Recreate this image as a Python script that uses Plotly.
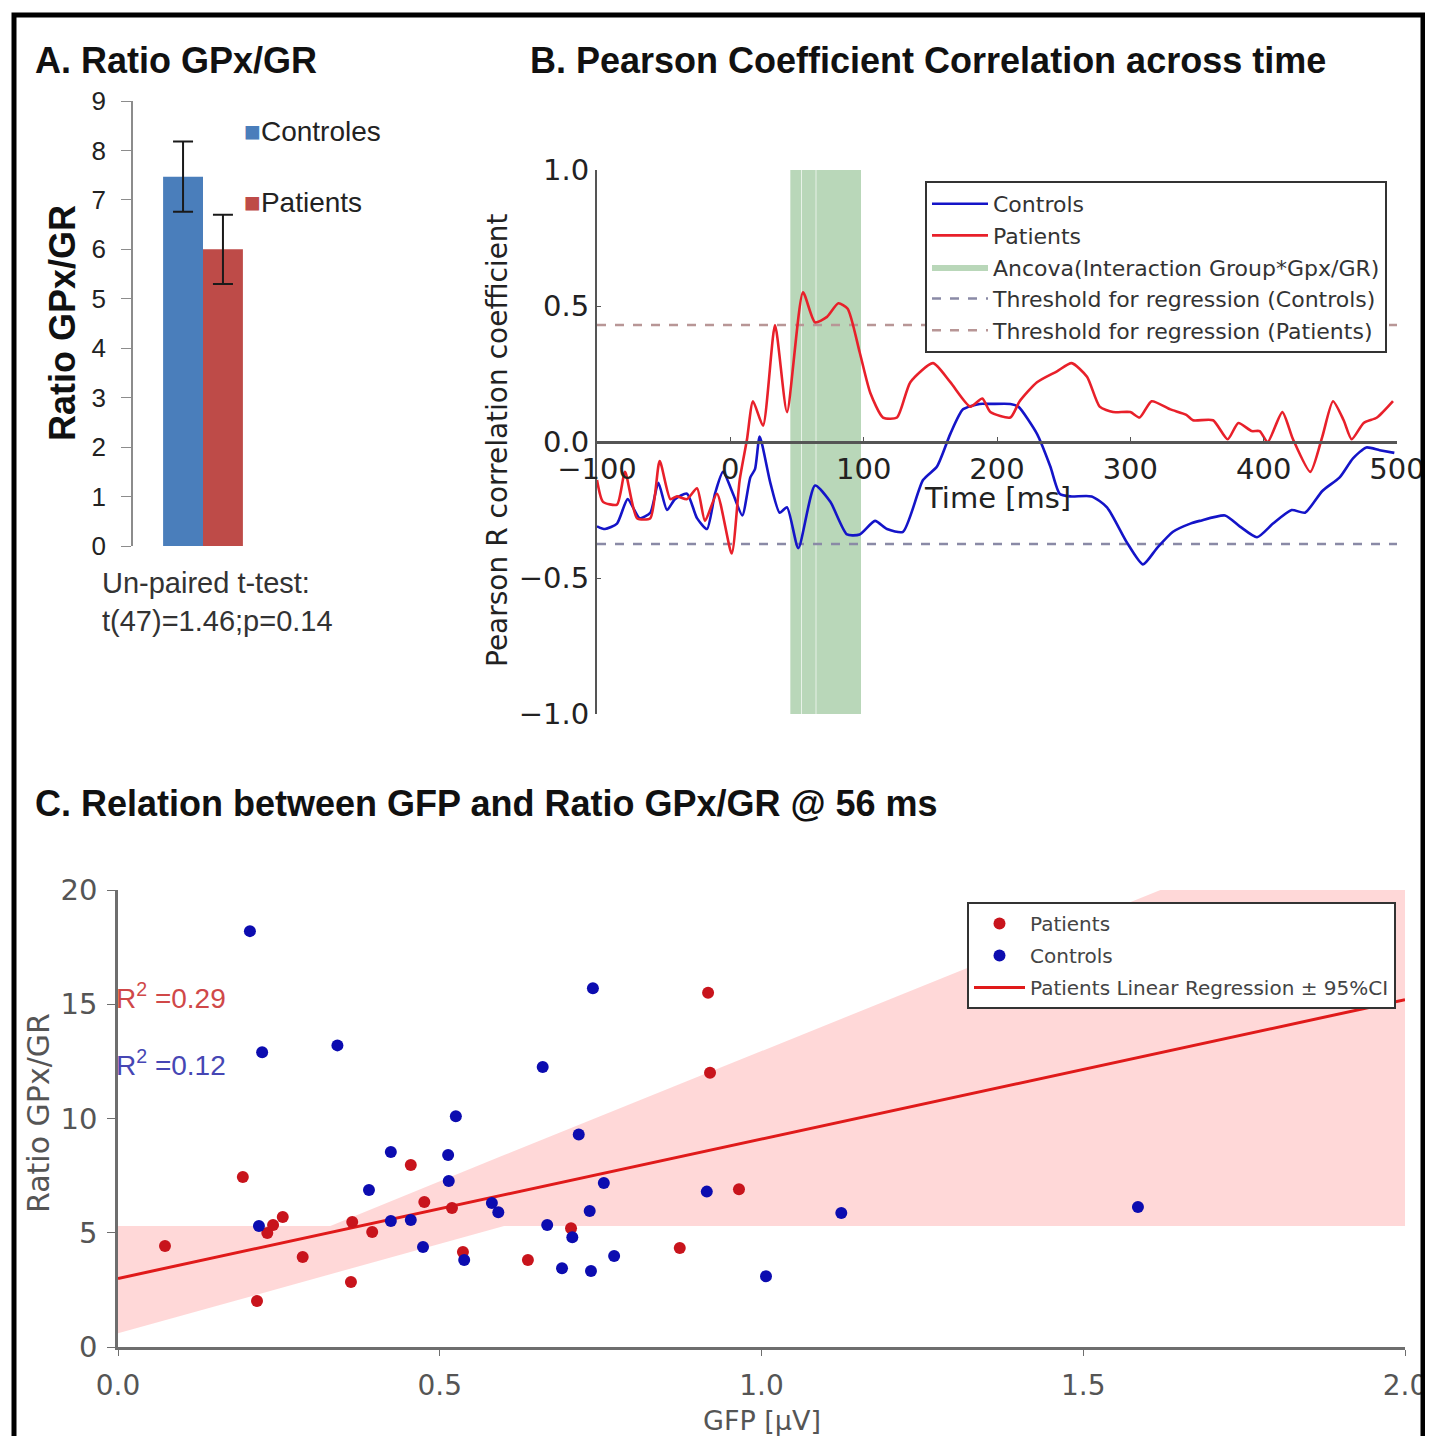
import plotly.graph_objects as go

W, H = 1433, 1436
OFF = 8  # page offset of the figure inside the browser window

# ---------------- Panel A data ----------------
groups_a = ["Controles", "Patients"]
means_a = [7.47, 6.0]
errs_a = [0.71, 0.70]
colors_a = ["#4a7ebb", "#be4b48"]
a_ticks = [0, 1, 2, 3, 4, 5, 6, 7, 8, 9]

# ---------------- Panel B data ----------------
t_controls = [-100, -94, -85, -77, -68, -60, -54, -47.5, -41.5, -32.5,
              -25, -17.5, -11.5, -5.5, 2, 9, 15, 18.5, 22, 30,
              37, 42.5, 51, 63.5, 75, 87.5, 97, 108.5, 117.5, 129.5,
              144.5, 155, 165, 174.5, 187, 195, 210, 216, 230, 240,
              247, 255, 271, 282.5, 297.5, 309.5, 320, 332, 345, 352,
              371, 382, 395, 407, 421, 431, 444, 457, 467, 477,
              487, 498]
r_controls = [-0.31, -0.32, -0.30, -0.21, -0.28, -0.26, -0.15, -0.25, -0.21, -0.19,
              -0.28, -0.32, -0.19, -0.11, -0.19, -0.27, -0.13, -0.10, 0.02, -0.15,
              -0.26, -0.24, -0.39, -0.16, -0.22, -0.34, -0.34, -0.29, -0.32, -0.33,
              -0.14, -0.09, 0.03, 0.12, 0.14, 0.14, 0.14, 0.13, 0.03, -0.09,
              -0.19, -0.20, -0.20, -0.24, -0.37, -0.45, -0.39, -0.33, -0.30, -0.29,
              -0.27, -0.31, -0.35, -0.30, -0.25, -0.26, -0.18, -0.13, -0.06, -0.02,
              -0.03, -0.04]
t_patients = [-100, -95.5, -85, -79, -70, -60, -53, -45, -40, -32.5,
              -25, -19, -10, 1, 7, 12.5, 17, 24.5, 33.5, 42.5,
              54.5, 63.5, 72.5, 81, 88, 97, 105, 114.5, 125, 135,
              152, 165, 180, 189, 195, 210, 217, 230, 245, 256,
              267.5, 277, 287, 300, 307, 316, 330, 342, 347, 362,
              373, 381, 391, 397, 403, 414, 422, 435, 444, 452,
              460, 466, 475, 485, 497]
r_patients = [-0.14, -0.22, -0.23, -0.11, -0.28, -0.28, -0.07, -0.21, -0.20, -0.21,
              -0.17, -0.29, -0.19, -0.41, -0.14, 0.01, 0.15, 0.06, 0.43, 0.11,
              0.55, 0.44, 0.46, 0.51, 0.49, 0.33, 0.18, 0.09, 0.09, 0.22,
              0.29, 0.22, 0.13, 0.16, 0.11, 0.09, 0.15, 0.22, 0.26, 0.29,
              0.24, 0.13, 0.11, 0.11, 0.09, 0.15, 0.12, 0.10, 0.08, 0.08,
              0.01, 0.07, 0.04, 0.04, 0.00, 0.11, 0.01, -0.11, 0.02, 0.15,
              0.08, 0.01, 0.07, 0.09, 0.15]
ancova_start = [45, 53.5, 64.5]
ancova_end = [53, 64, 98]
thr_controls = -0.375
thr_patients = 0.43
b_time_range = [-100, 500]
b_xticks = [-100, 0, 100, 200, 300, 400, 500]
b_yticks = [-1.0, -0.5, 0.0, 0.5, 1.0]
b_yticklabels = ["\u22121.0", "\u22120.5", "0.0", "0.5", "1.0"]
b_xticklabels = ["\u2212100", "0", "100", "200", "300", "400", "500"]

# ---------------- Panel C data ----------------
gfp_patients = [0.073, 0.194, 0.216, 0.232, 0.241, 0.256, 0.287, 0.362, 0.364, 0.395,
                0.455, 0.476, 0.519, 0.536, 0.637, 0.704, 0.873, 0.917, 0.920, 0.965]
ratio_patients = [4.42, 7.44, 2.01, 4.99, 5.34, 5.69, 3.94, 2.84, 5.47, 5.03,
                  7.97, 6.35, 6.08, 4.16, 3.81, 5.20, 4.33, 15.5, 12.0, 6.90]
gfp_controls = [0.205, 0.224, 0.341, 0.660, 0.525, 0.424, 0.513, 0.514, 0.390, 0.219,
                0.424, 0.455, 0.581, 0.591, 0.474, 0.538, 0.667, 0.738, 0.716, 0.755,
                0.915, 0.733, 0.706, 0.771, 0.690, 0.735, 1.007, 1.124, 1.585]
ratio_controls = [18.2, 12.9, 13.2, 12.25, 10.1, 8.53, 8.4, 7.26, 6.87, 5.30,
                  5.51, 5.56, 6.30, 5.90, 4.38, 3.81, 5.34, 15.7, 9.30, 7.18,
                  6.80, 5.95, 4.80, 3.98, 3.45, 3.33, 3.10, 5.86, 6.13]
reg_x = [0.0, 2.0]
reg_y = [3.0, 15.2]
band_x = [0.0, 0.33, 0.60, 1.62, 2.0]
band_lower = [0.6, 3.2, 5.3, 5.3, 5.3]
band_upper = [5.3, 5.3, 8.4, 20.0, 20.0]
c_xticks = [0.0, 0.5, 1.0, 1.5, 2.0]
c_yticks = [0, 5, 10, 15, 20]
r2_patients = 0.29
r2_controls = 0.12


def px_x(p):
    return (p - OFF) / W


def px_y(p):
    return 1 - (p - OFF) / H


ARIAL = "Liberation Sans, Arial, sans-serif"
DEJAVU = "DejaVu Sans, sans-serif"

fig = go.Figure()

# ---------- Panel A ----------
for g, m, e, c in zip(groups_a, means_a, errs_a, colors_a):
    fig.add_trace(go.Bar(
        x=[0], y=[m], name=g, marker=dict(color=c, line=dict(width=0)),
        error_y=dict(type="data", array=[e], color="#1a1a1a", thickness=2, width=10),
        xaxis="x", yaxis="y", showlegend=False, offsetgroup=g))

# ---------- Panel B ----------
for i, (s, e) in enumerate(zip(ancova_start, ancova_end)):
    fig.add_trace(go.Scatter(
        x=[s, s, e, e, s], y=[-1, 1, 1, -1, -1], mode="lines",
        fill="toself", fillcolor="rgba(60,145,60,0.36)", line=dict(width=0),
        name="Ancova(Interaction Group*Gpx/GR)", showlegend=(i == 0),
        legend="legend2", legendgroup="g3", legendrank=3,
        xaxis="x2", yaxis="y2", hoverinfo="skip"))

fig.add_trace(go.Scatter(
    x=b_time_range, y=[thr_controls, thr_controls], mode="lines",
    line=dict(color="#8a8aa6", width=2.5, dash="dash"),
    name="Threshold for regression (Controls)", legend="legend2",
    legendgroup="g4", legendrank=4, xaxis="x2", yaxis="y2"))
fig.add_trace(go.Scatter(
    x=b_time_range, y=[thr_patients, thr_patients], mode="lines",
    line=dict(color="#b89696", width=2.5, dash="dash"),
    name="Threshold for regression (Patients)", legend="legend2",
    legendgroup="g5", legendrank=5, xaxis="x2", yaxis="y2"))
fig.add_trace(go.Scatter(
    x=t_controls, y=r_controls, mode="lines",
    line=dict(color="#1414c8", width=2.6, shape="spline", smoothing=0.6),
    name="Controls", legend="legend2", legendgroup="g1", legendrank=1,
    xaxis="x2", yaxis="y2"))
fig.add_trace(go.Scatter(
    x=t_patients, y=r_patients, mode="lines",
    line=dict(color="#e8202a", width=2.6, shape="spline", smoothing=0.6),
    name="Patients", legend="legend2", legendgroup="g2", legendrank=2,
    xaxis="x2", yaxis="y2"))

# ---------- Panel C ----------
fig.add_trace(go.Scatter(
    x=band_x, y=band_lower, mode="lines", line=dict(width=0),
    showlegend=False, xaxis="x3", yaxis="y3", hoverinfo="skip"))
fig.add_trace(go.Scatter(
    x=band_x, y=band_upper, mode="lines", line=dict(width=0),
    fill="tonexty", fillcolor="rgba(255,60,60,0.20)",
    showlegend=False, xaxis="x3", yaxis="y3", hoverinfo="skip"))
fig.add_trace(go.Scatter(
    x=reg_x, y=reg_y, mode="lines", line=dict(color="#e01a1a", width=3),
    name="Patients Linear Regression \u00b1 95%CI", legend="legend3",
    legendgroup="c3", legendrank=3, xaxis="x3", yaxis="y3"))
fig.add_trace(go.Scatter(
    x=gfp_patients, y=ratio_patients, mode="markers",
    marker=dict(color="#c8141c", size=12),
    name="Patients", legend="legend3", legendgroup="c1", legendrank=1,
    xaxis="x3", yaxis="y3"))
fig.add_trace(go.Scatter(
    x=gfp_controls, y=ratio_controls, mode="markers",
    marker=dict(color="#0c0cb0", size=12),
    name="Controls", legend="legend3", legendgroup="c2", legendrank=2,
    xaxis="x3", yaxis="y3"))

axis_gray = "#6e6e6e"

fig.update_layout(
    width=W, height=H,
    margin=dict(l=0, r=0, t=0, b=0, pad=0, autoexpand=False),
    paper_bgcolor="white", plot_bgcolor="white",
    font=dict(family=DEJAVU, color="#222"),
    barmode="group", bargap=0.43, bargroupgap=0,
    # Panel A axes
    xaxis=dict(domain=[px_x(133), px_x(273)], range=[-0.5, 0.5],
               showticklabels=False, showline=False, showgrid=False,
               zeroline=False, ticks="", anchor="y"),
    yaxis=dict(domain=[px_y(546), px_y(101)], range=[0, 9],
               tickvals=a_ticks, showline=True, linecolor="#8c8c8c",
               linewidth=1.5, ticks="outside", ticklen=10, tickcolor="#8c8c8c",
               ticklabelstandoff=10,
               showgrid=False, zeroline=False, anchor="x",
               tickfont=dict(family=ARIAL, size=26, color="#222")),
    # Panel B axes
    xaxis2=dict(domain=[px_x(597), px_x(1397)], range=b_time_range,
                anchor="free", position=px_y(442),
                tickvals=b_xticks, ticktext=b_xticklabels,
                showline=True, linecolor="#555", linewidth=2.5,
                ticks="inside", ticklen=4, tickcolor="#555",
                showgrid=False, zeroline=False,
                tickfont=dict(family=DEJAVU, size=29, color="#222")),
    yaxis2=dict(domain=[px_y(714), px_y(170)], range=[-1, 1], anchor="x2",
                tickvals=b_yticks, ticktext=b_yticklabels,
                showline=True, linecolor="#555", linewidth=2,
                ticks="inside", ticklen=4, tickcolor="#555",
                showgrid=False, zeroline=False,
                tickfont=dict(family=DEJAVU, size=29, color="#222")),
    # Panel C axes
    xaxis3=dict(domain=[px_x(118), px_x(1405)], range=[0, 2], anchor="y3",
                tickvals=c_xticks, ticktext=["0.0", "0.5", "1.0", "1.5", "2.0"],
                showline=True, linecolor=axis_gray, linewidth=2.5,
                ticks="outside", ticklen=6, tickcolor=axis_gray,
                ticklabelstandoff=6,
                showgrid=False, zeroline=False,
                tickfont=dict(family=DEJAVU, size=28, color="#555")),
    yaxis3=dict(domain=[px_y(1347), px_y(890)], range=[0, 20], anchor="x3",
                tickvals=c_yticks,
                showline=True, linecolor=axis_gray, linewidth=2.5,
                ticks="outside", ticklen=8, tickcolor=axis_gray,
                ticklabelstandoff=4,
                showgrid=False, zeroline=False,
                tickfont=dict(family=DEJAVU, size=29, color="#555")),
    legend2=dict(x=px_x(925), y=px_y(181), xanchor="left", yanchor="top",
                 bgcolor="white", bordercolor="#333", borderwidth=2,
                 font=dict(family=DEJAVU, size=22, color="#333"),
                 traceorder="grouped", tracegroupgap=0, itemwidth=56),
    legend3=dict(x=px_x(967), y=px_y(902), xanchor="left", yanchor="top",
                 bgcolor="white", bordercolor="#333", borderwidth=2,
                 font=dict(family=DEJAVU, size=20, color="#444"),
                 traceorder="grouped", tracegroupgap=3, itemwidth=51),
)

P = dict(xref="paper", yref="paper", showarrow=False)
ann = []
# Titles
ann.append(dict(text="<b>A. Ratio GPx/GR</b>", x=px_x(33), y=px_y(60),
                xanchor="left", yanchor="middle",
                font=dict(family=ARIAL, size=36, color="#111"), **P))
ann.append(dict(text="<b>B. Pearson Coefficient Correlation across time</b>",
                x=px_x(528), y=px_y(60), xanchor="left", yanchor="middle",
                font=dict(family=ARIAL, size=36, color="#111"), **P))
ann.append(dict(text="<b>C. Relation between GFP and Ratio GPx/GR @ 56 ms</b>",
                x=px_x(33), y=px_y(803), xanchor="left", yanchor="middle",
                font=dict(family=ARIAL, size=36, color="#111"), **P))
# Panel A texts
ann.append(dict(text="<b>Ratio GPx/GR</b>", x=px_x(62), y=px_y(323),
                textangle=-90, xanchor="center", yanchor="middle",
                font=dict(family=ARIAL, size=36, color="#111"), **P))
ann.append(dict(text='<span style="color:%s">\u25a0</span>Controles' % colors_a[0],
                x=px_x(242), y=px_y(131), xanchor="left", yanchor="middle",
                font=dict(family=ARIAL, size=28, color="#222"), **P))
ann.append(dict(text='<span style="color:%s">\u25a0</span>Patients' % colors_a[1],
                x=px_x(242), y=px_y(203), xanchor="left", yanchor="middle",
                font=dict(family=ARIAL, size=28, color="#222"), **P))
ann.append(dict(text="Un-paired t-test:<br>t(47)=1.46;p=0.14",
                x=px_x(100), y=px_y(602), xanchor="left", yanchor="middle",
                align="left", font=dict(family=ARIAL, size=29, color="#333"), **P))
# Panel B texts
ann.append(dict(text="Time [ms]", x=200, y=px_y(498), xref="x2", yref="paper",
                xanchor="center", yanchor="middle", showarrow=False,
                font=dict(family=DEJAVU, size=29, color="#222")))
ann.append(dict(text="Pearson R correlation coefficient", x=px_x(497), y=px_y(440),
                textangle=-90, xanchor="center", yanchor="middle",
                font=dict(family=DEJAVU, size=28, color="#222"), **P))
# Panel C texts
ann.append(dict(text="Ratio GPx/GR", x=px_x(38), y=px_y(1113), textangle=-90,
                xanchor="center", yanchor="middle",
                font=dict(family=DEJAVU, size=30, color="#555"), **P))
ann.append(dict(text="GFP [\u03bcV]", x=1.0, y=px_y(1420), xref="x3", yref="paper",
                xanchor="center", yanchor="middle", showarrow=False,
                font=dict(family=DEJAVU, size=27, color="#555")))
ann.append(dict(text="R<sup>2</sup> =%.2f" % r2_patients, x=px_x(114), y=px_y(996),
                xanchor="left", yanchor="middle",
                font=dict(family=ARIAL, size=28, color="#d04848"), **P))
ann.append(dict(text="R<sup>2</sup> =%.2f" % r2_controls, x=px_x(114), y=px_y(1063),
                xanchor="left", yanchor="middle",
                font=dict(family=ARIAL, size=28, color="#4646b4"), **P))

fig.update_layout(annotations=ann)

# outer frame
fig.add_shape(type="rect", xref="paper", yref="paper",
              x0=px_x(14), x1=px_x(1423), y0=-0.01, y1=px_y(15),
              line=dict(color="black", width=5), fillcolor="rgba(0,0,0,0)")

fig.write_html("out.html")
